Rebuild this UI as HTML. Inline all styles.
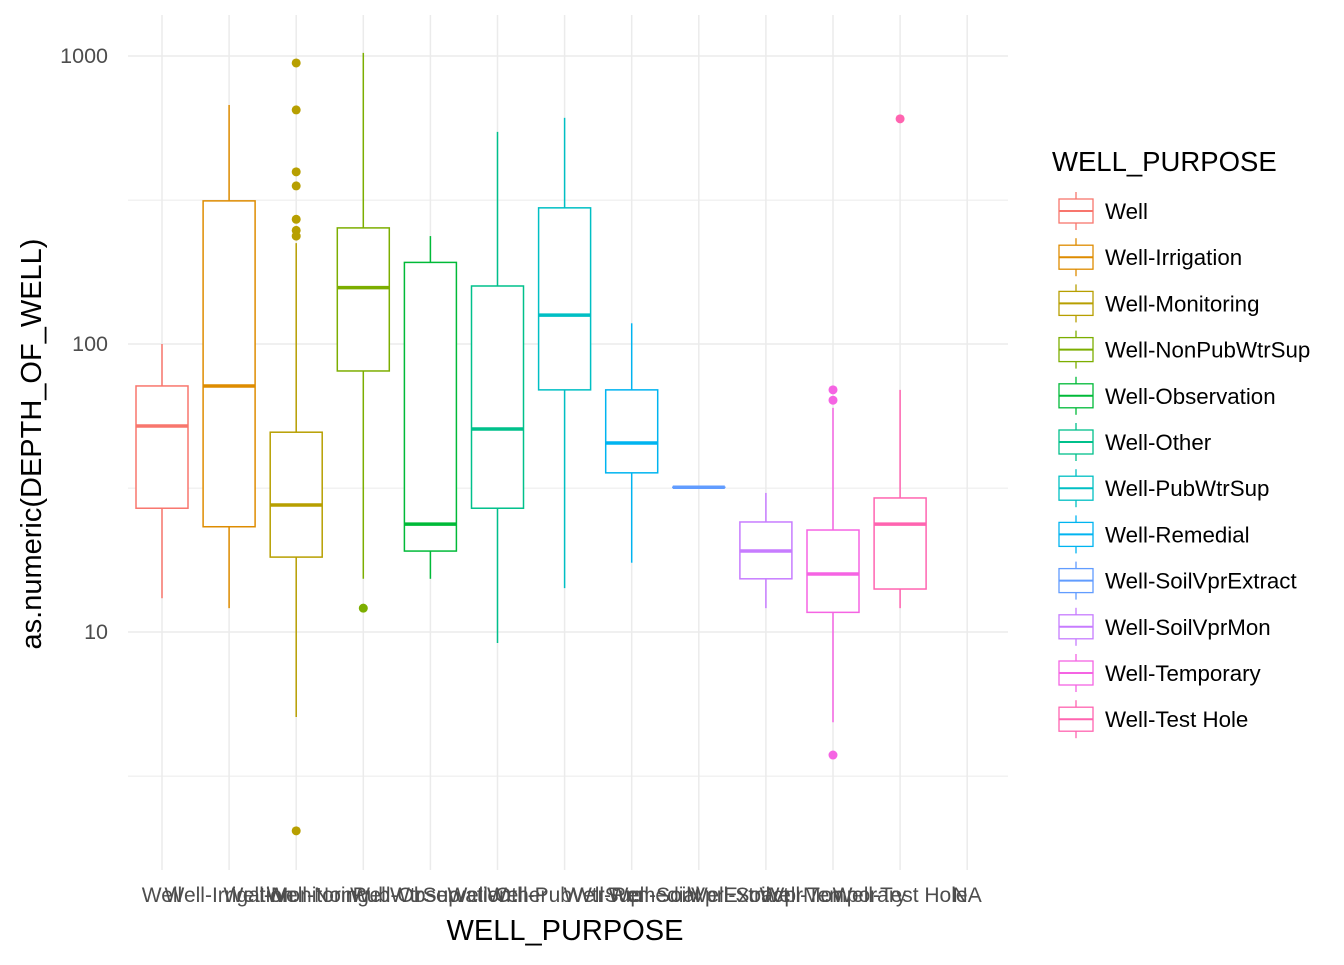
<!DOCTYPE html>
<html><head><meta charset="utf-8"><style>
body{margin:0;background:#fff;font-family:"Liberation Sans",Arial,sans-serif;}
</style></head><body>
<svg width="1344" height="960" xmlns="http://www.w3.org/2000/svg">
<g id="grid"></g>
<g id="boxes"></g>
<g id="axes"></g>
<text x="565" y="940" font-size="29" text-anchor="middle" fill="#000">WELL_PURPOSE</text>
<text transform="translate(41,444) rotate(-90)" font-size="29" text-anchor="middle" fill="#000">as.numeric(DEPTH_OF_WELL)</text>
<text x="1052" y="171" font-size="27.5" fill="#000">WELL_PURPOSE</text>
<g id="legend"></g>
</svg>
<script>
const categories=["Well","Well-Irrigation","Well-Monitoring","Well-NonPubWtrSup","Well-Observation","Well-Other","Well-PubWtrSup","Well-Remedial","Well-SoilVprExtract","Well-SoilVprMon","Well-Temporary","Well-Test Hole","NA"];
const lowW=[13.1,12.1,5.07,15.3,15.3,9.16,14.2,17.4,31.8,12.1,4.86,12.1];
const q1=[26.9,23.2,18.2,80.6,19.1,26.9,69.3,35.7,31.8,15.3,11.7,14.1];
const med=[51.9,71.5,27.6,157,23.7,50.7,126,45.3,31.8,19.1,15.9,23.7];
const q3=[71.5,314,49.4,253,192,159,297,69.3,31.8,24.1,22.6,29.2];
const highW=[100,676,224,1025,237,545,610,118,31.8,30.4,60,69.3];
const outliers=[[],[],[946,650,396,354,271,248,237,2.04],[12.1],[],[],[],[],[],[],[69.3,63.8,3.74],[605]];
const colors=["#F8766D","#DE8C00","#B79F00","#7CAE00","#00BA38","#00C08B","#00BFC4","#00B4F0","#619CFF","#C77CFF","#F564E3","#FF64B0"];
const yTicks=[10,100,1000];
const yMinor=[3.16,31.6,316];
const NS="http://www.w3.org/2000/svg";
function y(v){return 632-(Math.log10(v)-1)*288;}
function x(i){return 162+i*67.1;}
function mk(p,t,a){const e=document.createElementNS(NS,t);for(const k in a)e.setAttribute(k,a[k]);p.appendChild(e);return e;}
const grid=document.getElementById('grid'),boxes=document.getElementById('boxes'),axes=document.getElementById('axes'),leg=document.getElementById('legend');
yMinor.forEach(v=>{const l=mk(grid,'line',{x1:128,x2:1008,y1:y(v),y2:y(v),stroke:'#ebebeb','stroke-width':1});

});
yTicks.forEach(v=>{const l=mk(grid,'line',{x1:128,x2:1008,y1:y(v),y2:y(v),stroke:'#ebebeb','stroke-width':1.5});


const t=mk(axes,'text',{x:108,y:y(v)+7,'font-size':21.5,'text-anchor':'end',fill:'#4d4d4d'});t.textContent=v;

});
categories.forEach((c,i)=>{const l=mk(grid,'line',{x1:x(i),x2:x(i),y1:15,y2:870,stroke:'#ebebeb','stroke-width':1.5});


const t=mk(axes,'text',{x:x(i),y:902,'font-size':21,'text-anchor':'middle',fill:'#4d4d4d'});t.textContent=c;

});
for(let i=0;i<12;i++){const g=mk(boxes,'g',{});


const col=colors[i],cx=x(i);
mk(g,'line',{x1:cx,x2:cx,y1:y(highW[i]),y2:y(q3[i]),stroke:col,'stroke-width':1.5});
mk(g,'line',{x1:cx,x2:cx,y1:y(q1[i]),y2:y(lowW[i]),stroke:col,'stroke-width':1.5});
mk(g,'rect',{x:cx-26,y:y(q3[i]),width:52,height:Math.max(0.01,y(q1[i])-y(q3[i])),fill:'#fff',stroke:col,'stroke-width':1.5});
mk(g,'line',{x1:cx-26,x2:cx+26,y1:y(med[i]),y2:y(med[i]),stroke:col,'stroke-width':3.5});
outliers[i].forEach(o=>mk(g,'circle',{cx:cx,cy:y(o),r:4.5,fill:col}));}
for(let i=0;i<12;i++){const g=mk(leg,'g',{});


const yy=211+i*46.2,col=colors[i];
mk(g,'line',{x1:1076,x2:1076,y1:yy-19,y2:yy+19,stroke:col,'stroke-width':1.3});
mk(g,'rect',{x:1059,y:yy-12,width:34,height:24,fill:'#fff',stroke:col,'stroke-width':1.3});
mk(g,'line',{x1:1059,x2:1093,y1:yy,y2:yy,stroke:col,'stroke-width':2});
const t=mk(g,'text',{x:1105,y:yy+8,'font-size':22.3,fill:'#000'});t.textContent=categories[i];}
</script>
</body></html>
